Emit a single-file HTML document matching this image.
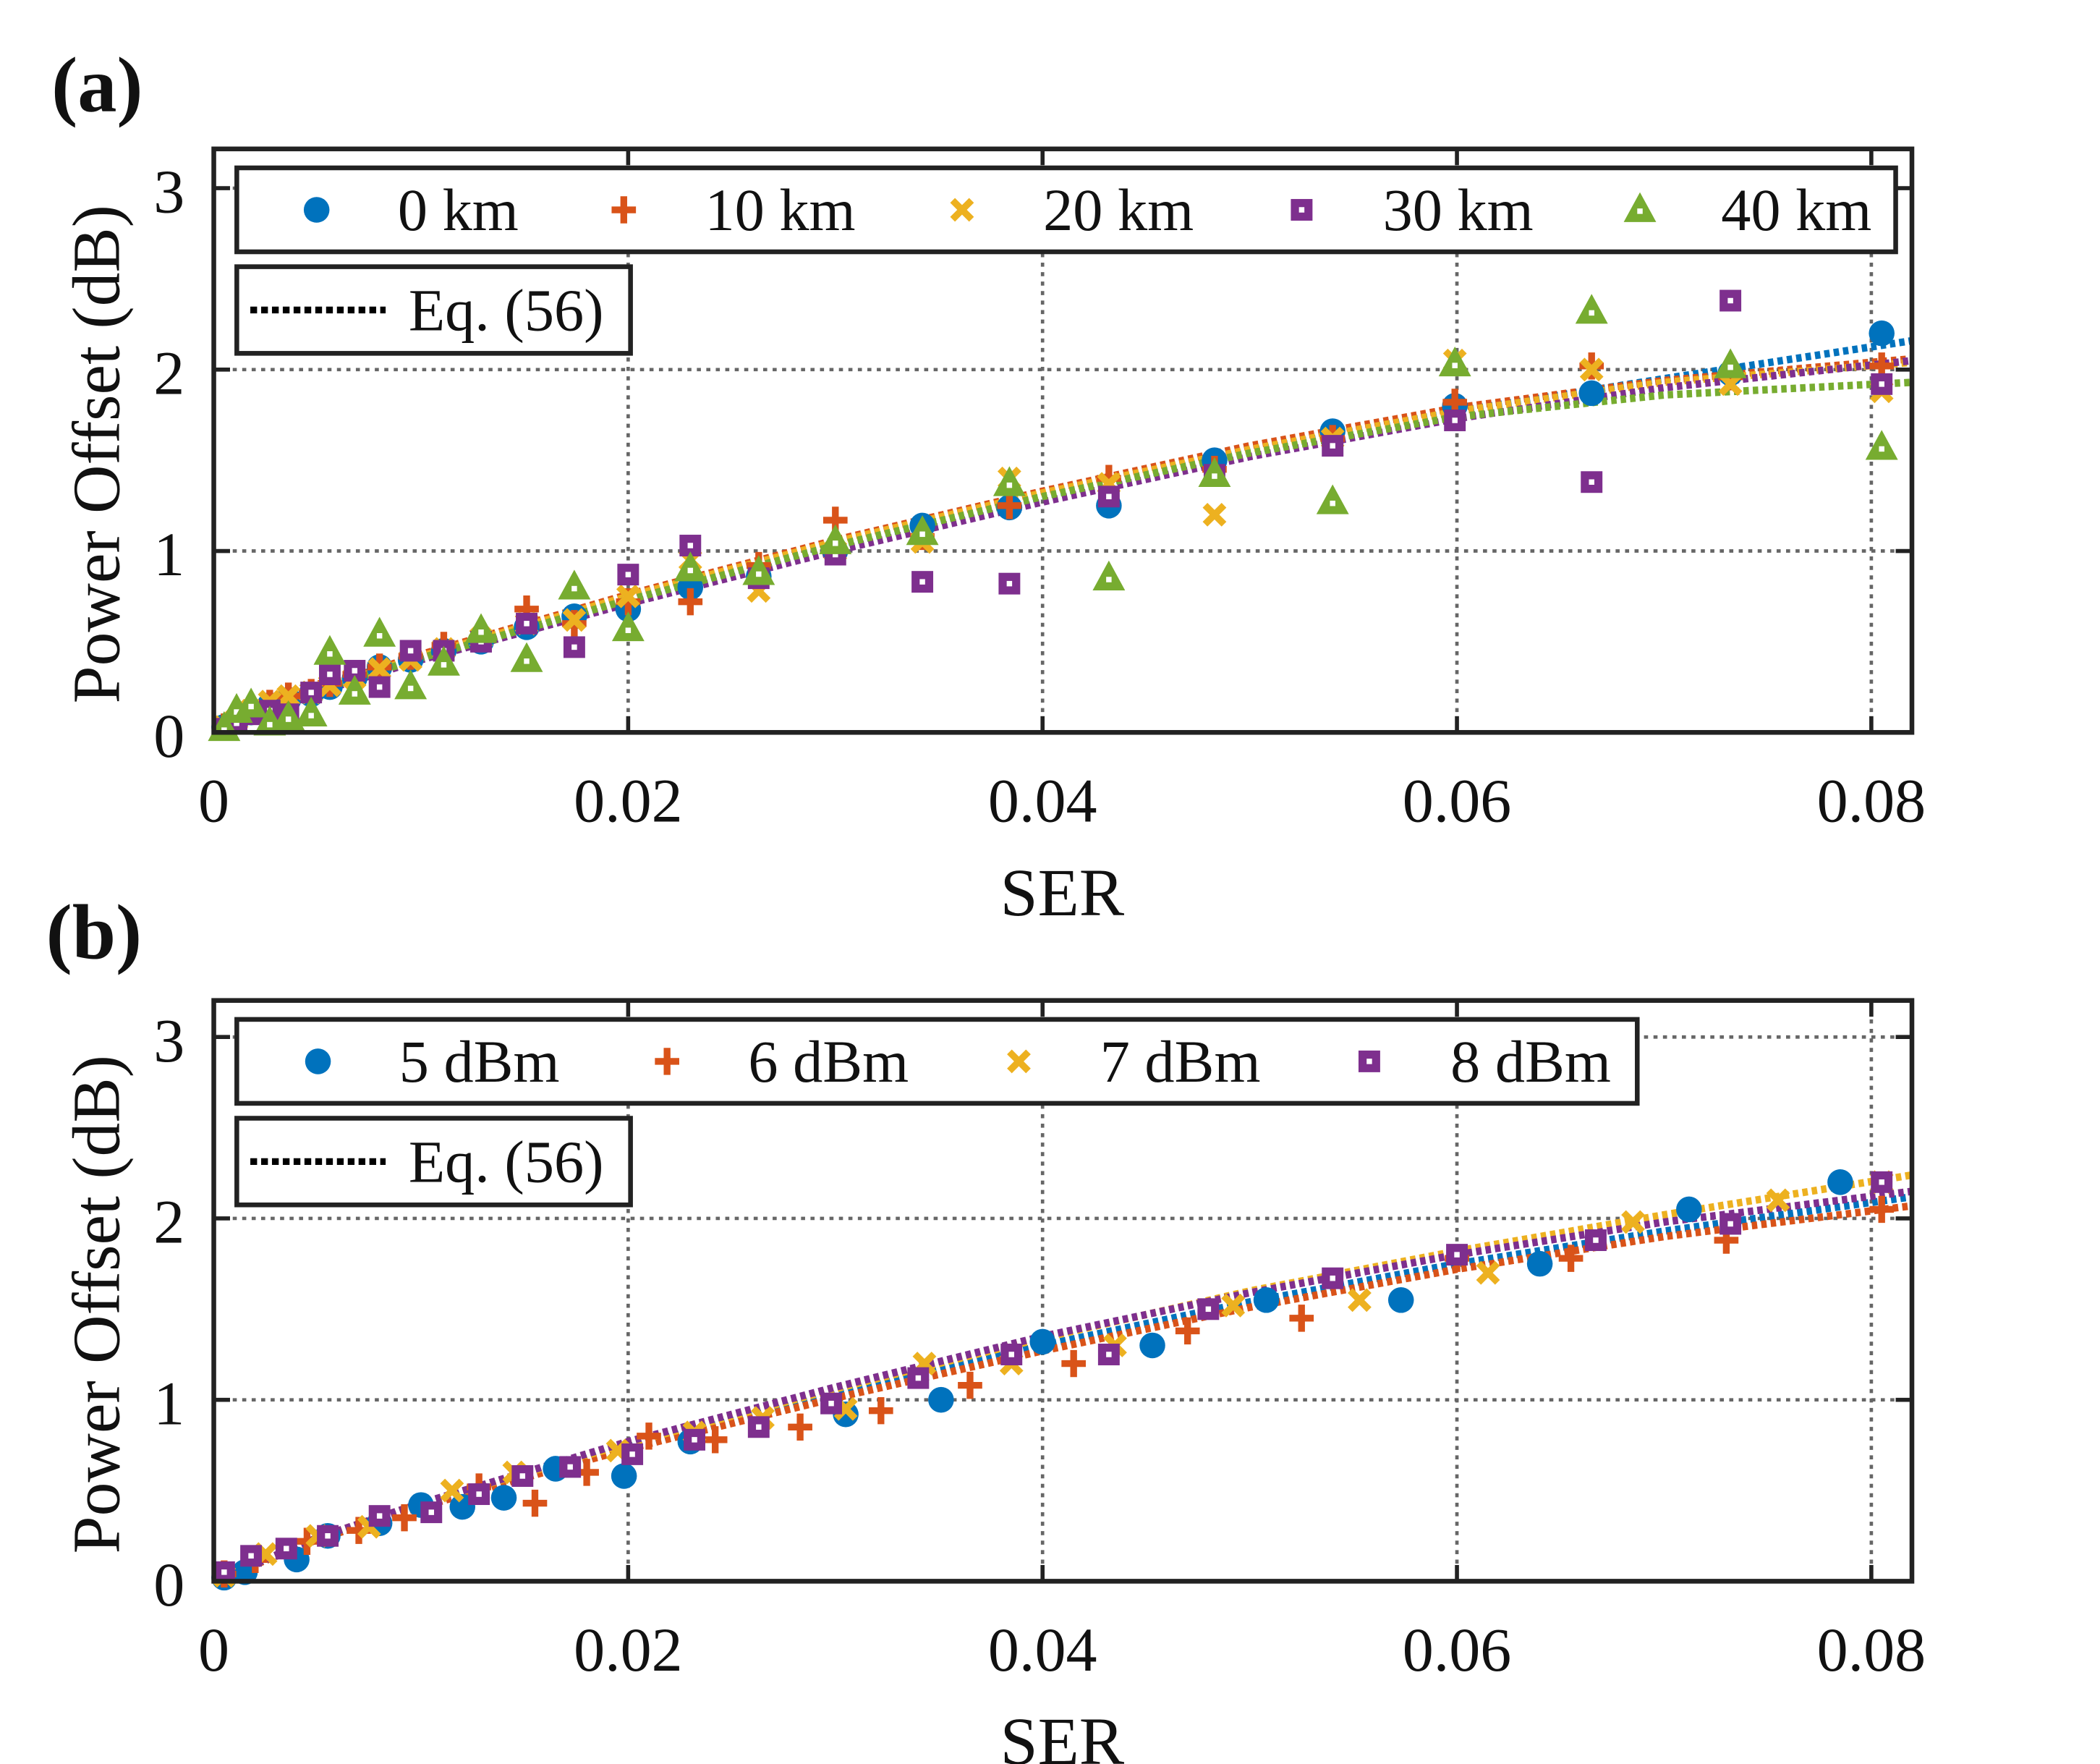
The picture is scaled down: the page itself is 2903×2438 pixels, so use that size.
<!DOCTYPE html>
<html><head><meta charset="utf-8"><style>
html,body{margin:0;padding:0;background:#fff}
svg{display:block}
text{font-family:"Liberation Serif","Times New Roman",serif;fill:#111}
</style></head><body>
<svg id="fig" width="2903" height="2438" viewBox="0 0 1552 1303" preserveAspectRatio="none" xmlns="http://www.w3.org/2000/svg"></svg>
<script>
// ---- Panel (a) data ----
const aX = [0.0005,0.0011,0.0018,0.0027,0.0036,0.0047,0.0056,0.0068,0.008,0.0095,0.0111,0.0129,0.0151,0.0174,0.02,0.023,0.0263,0.030,0.0342,0.0384,0.0432,0.0483,0.054,0.0599,0.0665,0.0732,0.0805];
const a0km = [0.03,0.07,0.11,0.15,0.18,0.21,0.25,0.3,0.36,0.4,0.45,0.5,0.58,0.64,0.68,0.8,0.86,1.0,1.14,1.24,1.25,1.5,1.66,1.8,1.87,1.98,2.2];
const a10km = [0.03,0.08,0.12,0.16,0.2,0.22,0.27,0.32,0.36,0.42,0.48,0.52,0.68,0.6,0.72,0.72,0.92,1.17,1.08,1.25,1.4,1.45,1.62,1.82,2.02,1.96,2.02];
const a20km = [0.03,0.07,0.12,0.17,0.2,0.22,0.26,0.3,0.35,0.4,0.46,0.52,0.6,0.62,0.75,0.95,0.78,1.0,1.05,1.4,1.37,1.2,1.62,2.05,2.0,1.92,1.88];
const a30km = [0.02,0.05,0.1,0.12,0.1,0.22,0.32,0.34,0.25,0.45,0.45,0.5,0.6,0.47,0.87,1.03,0.85,0.98,0.83,0.82,1.3,1.42,1.58,1.72,1.38,2.38,1.92];
const a40km = [0.02,0.12,0.15,0.05,0.08,0.1,0.44,0.22,0.54,0.25,0.38,0.56,0.4,0.8,0.57,0.9,0.88,1.05,1.1,1.37,0.85,1.42,1.27,2.03,2.32,2.02,1.57];
const fitX = [0,0.005,0.01,0.02,0.03,0.04,0.05,0.06,0.07,0.082];
const aFit0 = [0,0.23,0.42,0.74,1.03,1.3,1.55,1.77,1.95,2.16];
const aFit10 = [0,0.24,0.43,0.76,1.06,1.33,1.58,1.79,1.94,2.06];
const aFit20 = [0,0.23,0.42,0.75,1.05,1.32,1.56,1.77,1.93,2.04];
const aFit30 = [0,0.22,0.4,0.71,1.0,1.27,1.52,1.73,1.9,2.05];
const aFit40 = [0,0.23,0.41,0.73,1.03,1.3,1.54,1.74,1.86,1.93];
// ---- Panel (b) data ----
const b5X = [0.0005,0.0015,0.004,0.0055,0.008,0.01,0.012,0.014,0.0165,0.0198,0.023,0.0305,0.0351,0.04,0.0453,0.0508,0.0573,0.064,0.0712,0.0785];
const b5Y = [0.02,0.05,0.12,0.25,0.32,0.42,0.41,0.46,0.62,0.58,0.77,0.92,1.0,1.32,1.3,1.55,1.55,1.75,2.05,2.2];
const b6X = [0.0005,0.002,0.0045,0.007,0.0092,0.0128,0.0155,0.018,0.021,0.0242,0.0283,0.0322,0.0365,0.0415,0.047,0.0525,0.06,0.0655,0.073,0.0805];
const b6Y = [0.04,0.12,0.22,0.28,0.35,0.52,0.43,0.6,0.8,0.78,0.85,0.94,1.08,1.2,1.38,1.45,1.78,1.78,1.88,2.05];
const b7X = [0.0005,0.0025,0.005,0.0075,0.0115,0.0145,0.0195,0.0232,0.0265,0.0305,0.0343,0.0385,0.0435,0.0492,0.0553,0.0615,0.0685,0.0755,0.0805];
const b7Y = [0.03,0.15,0.25,0.3,0.5,0.6,0.72,0.82,0.9,0.95,1.2,1.2,1.3,1.52,1.55,1.7,1.98,2.1,2.2];
const b8X = [0.0005,0.0018,0.0035,0.0055,0.008,0.0105,0.0128,0.0149,0.0172,0.0202,0.0232,0.0263,0.0298,0.034,0.0385,0.0432,0.048,0.054,0.06,0.0667,0.0732,0.0805];
const b8Y = [0.05,0.14,0.18,0.25,0.36,0.38,0.48,0.58,0.63,0.7,0.78,0.85,0.98,1.12,1.25,1.25,1.5,1.67,1.8,1.88,1.97,2.2];
const bFit5 = [0,0.23,0.42,0.74,1.03,1.3,1.54,1.75,1.93,2.12];
const bFit6 = [0,0.23,0.41,0.73,1.01,1.27,1.51,1.72,1.9,2.07];
const bFit7 = [0,0.24,0.43,0.76,1.06,1.34,1.6,1.82,2.02,2.24];
const bFit8 = [0,0.24,0.43,0.77,1.07,1.35,1.59,1.8,1.98,2.15];
const xTicks = [0,0.02,0.04,0.06,0.08];
const xTickLabels = ["0","0.02","0.04","0.06","0.08"];
const yTicks = [0,1,2,3];
const yTickLabels = ["0","1","2","3"];

const NS="http://www.w3.org/2000/svg";
const svg=document.getElementById('fig');
const C={blue:'#0072BD',orange:'#D95319',yellow:'#EDB120',purple:'#7E2F8E',green:'#77AC30'};
function mk(tag,attrs,parent){const e=document.createElementNS(NS,tag);for(const k in attrs)e.setAttribute(k,attrs[k]);(parent||svg).appendChild(e);return e;}
function txt(s,x,y,size,anchor,parent,weight){const t=mk('text',{x:x,y:y,'font-size':size,'text-anchor':anchor||'middle','font-family':'Liberation Serif, Times New Roman, serif'},parent);if(weight)t.setAttribute('font-weight',weight);t.textContent=s;return t;}

function marker(g,type,cx,cy,color){
  let e;
  if(type==='circle'){e=mk('circle',{cx:cx,cy:cy,r:9.5,fill:color},g);}
  else if(type==='plus'){e=mk('path',{d:`M${cx-9} ${cy}H${cx+9}M${cx} ${cy-10}V${cy+10}`,stroke:color,'stroke-width':5,fill:'none'},g);}
  else if(type==='x'){e=mk('path',{d:`M${cx-7} ${cy-7}L${cx+7} ${cy+7}M${cx+7} ${cy-7}L${cx-7} ${cy+7}`,stroke:color,'stroke-width':5,fill:'none'},g);}
  else if(type==='square'){e=mk('g',{},g);mk('rect',{x:cx-8,y:cy-8,width:16,height:16,fill:color},e);mk('rect',{x:cx-2,y:cy-2,width:4,height:4,fill:'#fff'},e);}
  else {e=mk('g',{},g);mk('path',{d:`M${cx} ${cy-13}L${cx+12} ${cy+9}L${cx-12} ${cy+9}Z`,fill:color},e);mk('rect',{x:cx-2,y:cy-1,width:4,height:4,fill:'#fff'},e);}
  return e;
}

function panel(P){
  const g=mk('g',{});
  
  
  const L=158,R=1413,T=P.top,B=P.bottom;
  const sx=v=>L+v/0.02*306.25;
  const sy=v=>B-v*134;
  xTicks.forEach((t,i)=>{ if(t>0){const l=mk('line',{x1:sx(t),x2:sx(t),y1:T,y2:B,stroke:'#666','stroke-width':2.5,'stroke-dasharray':'3 4'},g);}
    mk('line',{x1:sx(t),x2:sx(t),y1:B,y2:B-12,stroke:'#222','stroke-width':3},g);
    mk('line',{x1:sx(t),x2:sx(t),y1:T,y2:T+12,stroke:'#222','stroke-width':3},g);
    const tl=txt(xTickLabels[i],sx(t),B+66,46,'middle',g);});
  yTicks.forEach((t,i)=>{ if(t>0){const l=mk('line',{x1:L,x2:R,y1:sy(t),y2:sy(t),stroke:'#666','stroke-width':2.5,'stroke-dasharray':'3 4'},g);}
    mk('line',{x1:L,x2:L+12,y1:sy(t),y2:sy(t),stroke:'#222','stroke-width':3},g);
    mk('line',{x1:R,x2:R-12,y1:sy(t),y2:sy(t),stroke:'#222','stroke-width':3},g);
    const tl=txt(yTickLabels[i],125,sy(t)+18,46,'middle',g);});
  P.fits.forEach(f=>{const pl=mk('polyline',{points:fitX.map((x,i)=>sx(x)+','+sy(f.y[i])).join(' '),fill:'none',stroke:f.c,'stroke-width':5.5,'stroke-dasharray':'4 3'},g);
    });
  P.series.forEach(s=>{const sg=mk('g',{},g);
    s.x.forEach((x,i)=>{const m=marker(sg,s.t,sx(x),sy(s.y[i]),s.c);});});
  const fr=mk('rect',{x:L,y:T,width:R-L,height:B-T,fill:'none',stroke:'#222','stroke-width':3.5},g);
  
  const lg=mk('g',{},g);
  mk('rect',{x:175,y:T+14,width:P.legW,height:62,fill:'#fff',stroke:'#222','stroke-width':3.5},lg);
  P.series.forEach((s,i)=>{const ex=P.legX[i];const e=mk('g',{},lg);
    marker(e,s.t,ex,T+45,s.c);txt(s.label,ex+60,T+60,44,'start',e);});
  const eq=mk('g',{},g);
  mk('rect',{x:175,y:T+87,width:291,height:64,fill:'#fff',stroke:'#222','stroke-width':3.5},eq);
  mk('line',{x1:185,x2:285,y1:T+119,y2:T+119,stroke:'#000','stroke-width':5,'stroke-dasharray':'5 3'},eq);
  txt('Eq. (56)',302,T+134,44,'start',eq);
  const yl=txt('Power Offset (dB)',0,0,50,'middle',g);yl.setAttribute('transform',`translate(88,${(T+B)/2+10}) rotate(-90)`);
  const xl=txt('SER',785,B+135,50,'middle',g);
  const pl=txt(P.tag,P.tagX,P.tagY,58,'start',g,'bold');
}

panel({name:'panel-a',top:110,bottom:541,tag:'(a)',tagX:38,tagY:82,legW:1226,legX:[234,461,711,962,1212],
  series:[{name:'series-0km',label:'0 km',t:'circle',c:C.blue,x:aX,y:a0km},
          {name:'series-10km',label:'10 km',t:'plus',c:C.orange,x:aX,y:a10km},
          {name:'series-20km',label:'20 km',t:'x',c:C.yellow,x:aX,y:a20km},
          {name:'series-30km',label:'30 km',t:'square',c:C.purple,x:aX,y:a30km},
          {name:'series-40km',label:'40 km',t:'tri',c:C.green,x:aX,y:a40km}],
  fits:[{c:C.blue,y:aFit0},{c:C.orange,y:aFit10},{c:C.yellow,y:aFit20},{c:C.purple,y:aFit30},{c:C.green,y:aFit40}]});
panel({name:'panel-b',top:739,bottom:1168,tag:'(b)',tagX:34,tagY:708,legW:1035,legX:[235,493,753,1012],
  series:[{name:'series-5dbm',label:'5 dBm',t:'circle',c:C.blue,x:b5X,y:b5Y},
          {name:'series-6dbm',label:'6 dBm',t:'plus',c:C.orange,x:b6X,y:b6Y},
          {name:'series-7dbm',label:'7 dBm',t:'x',c:C.yellow,x:b7X,y:b7Y},
          {name:'series-8dbm',label:'8 dBm',t:'square',c:C.purple,x:b8X,y:b8Y}],
  fits:[{c:C.blue,y:bFit5},{c:C.orange,y:bFit6},{c:C.yellow,y:bFit7},{c:C.purple,y:bFit8}]});
</script>
</body></html>
